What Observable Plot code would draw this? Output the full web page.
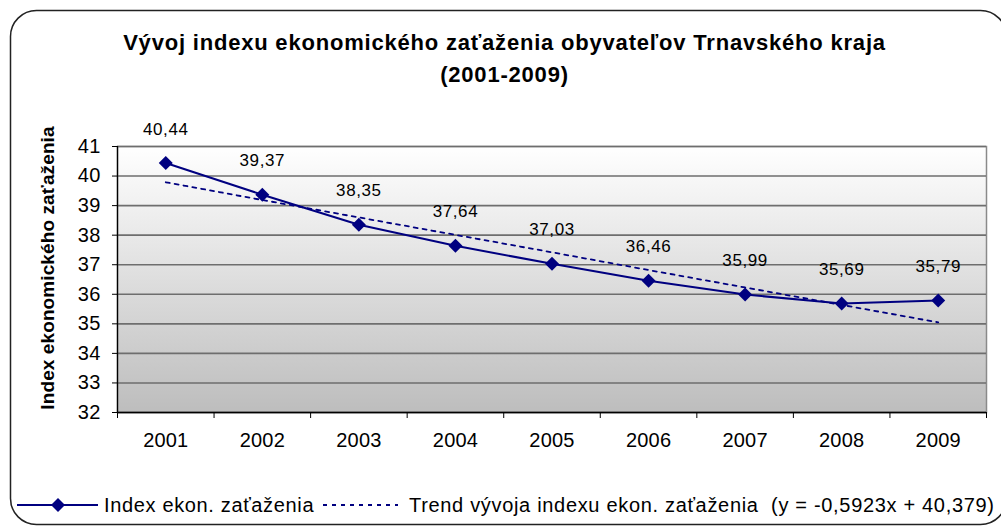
<!DOCTYPE html>
<html><head><meta charset="utf-8">
<script src="https://cdn.jsdelivr.net/npm/d3@7"></script>
<script src="https://cdn.jsdelivr.net/npm/@observablehq/plot@0.6"></script>
<style>
body{margin:0;background:#fff;font-family:"Liberation Sans",Arial,sans-serif;color:#000;}
#wrap{position:relative;width:1001px;height:528px;overflow:hidden;}
#chart{position:absolute;left:0;top:0;}
#chart svg text{letter-spacing:0.2px;}
#chart svg text.lbl{letter-spacing:0.6px;}
.title{position:absolute;left:4px;width:1001px;text-align:center;font-weight:bold;font-size:22px;line-height:24px;letter-spacing:0.8px;white-space:pre;}
.ytitle{position:absolute;left:48px;top:268px;transform:translate(-50%,-50%) rotate(-90deg);font-weight:bold;font-size:19px;letter-spacing:0.1px;white-space:nowrap;}
.leg{position:absolute;top:494px;font-size:20px;line-height:22px;letter-spacing:0.65px;white-space:pre;}
#overlay{position:absolute;left:0;top:0;}
</style></head><body>
<div id="wrap">
  <div id="chart"></div>
  <svg id="overlay" width="1001" height="528"></svg>
  <div class="title" style="top:31px">Vývoj indexu ekonomického zaťaženia obyvateľov Trnavského kraja</div>
  <div class="title" style="top:63px">(2001-2009)</div>
  <div class="ytitle">Index ekonomického zaťaženia</div>
  <div class="leg" style="left:104px">Index ekon. zaťaženia</div>
  <div class="leg" style="left:409px;letter-spacing:0.68px">Trend vývoja indexu ekon. zaťaženia  (y = -0,5923x + 40,379)</div>
</div>
<script>
const years = ["2001","2002","2003","2004","2005","2006","2007","2008","2009"];
const indexValues = [40.44, 39.37, 38.35, 37.64, 37.03, 36.46, 35.99, 35.69, 35.79];
const trendValues = [39.79, 39.19, 38.60, 38.01, 37.42, 36.82, 36.23, 35.64, 35.05];
const yTicks = [32, 33, 34, 35, 36, 37, 38, 39, 40, 41];
const seriesName = "Index ekon. zaťaženia";
const trendName = "Trend vývoja indexu ekon. zaťaženia  (y = -0,5923x + 40,379)";

const positions = years.map((_, i) => i + 1);
const boundaries = [0.5, ...positions.map(p => p + 0.5)];
const data = years.map((y, i) => ({
  pos: i + 1, year: y, value: indexValues[i], trend: trendValues[i],
  label: indexValues[i].toFixed(2).replace(".", ",")
}));

const navy = "#000080";
const chart = Plot.plot({
  width: 1001, height: 528,
  marginLeft: 117, marginRight: 15, marginTop: 146, marginBottom: 116,
  style: {fontFamily: "'Liberation Sans', Arial, sans-serif", fontSize: "20px", background: "transparent", color: "#000"},
  x: {type: "linear", domain: [0.5, 9.5]},
  y: {domain: [32, 41]},
  marks: [
    Plot.frame({fill: "url(#plotBg)", stroke: "#8a8a8a", strokeWidth: 1.5}),
    Plot.gridY(yTicks, {stroke: "#6e6e6e", strokeOpacity: 1, strokeWidth: 1.6}),
    Plot.axisY(yTicks, {tickSize: 5, tickPadding: 12, fontSize: 20, label: null, tickFormat: d => String(d)}),
    Plot.axisX(positions, {tickFormat: i => years[i - 1], tickSize: 0, tickPadding: 20, fontSize: 20, label: null}),
    Plot.axisX(boundaries, {tickFormat: () => "", tickSize: 6, label: null}),
    Plot.ruleX([0.5], {stroke: "#000", strokeWidth: 1.3}),
    Plot.ruleY([32], {stroke: "#000", strokeWidth: 1.3}),
    Plot.line(data, {x: "pos", y: "trend", stroke: navy, strokeWidth: 1.8, strokeDasharray: "4,5"}),
    Plot.line(data, {x: "pos", y: "value", stroke: navy, strokeWidth: 2}),
    Plot.dot(data, {x: "pos", y: "value", symbol: "diamond2", r: 6.3, fill: navy, stroke: "none"}),
    Plot.text(data, {x: "pos", y: "value", text: "label", dy: -34, fontSize: 17, fill: "#000"})
  ]
});

const defs = d3.select(chart).insert("defs", ":first-child");
const grad = defs.append("linearGradient").attr("id", "plotBg")
  .attr("x1", 0).attr("y1", 0).attr("x2", 0).attr("y2", 1);
grad.append("stop").attr("offset", "0%").attr("stop-color", "#ffffff");
grad.append("stop").attr("offset", "100%").attr("stop-color", "#bdbdbd");
d3.select(chart).selectAll("g[aria-label='text'] text").attr("class", "lbl");
document.getElementById("chart").appendChild(chart);

// overlay: border + legend swatches
const ov = d3.select("#overlay");
ov.append("rect").attr("x", 10.5).attr("y", 10.5).attr("width", 996).attr("height", 514)
  .attr("rx", 26).attr("fill", "none").attr("stroke", "#222").attr("stroke-width", 1.5);
ov.append("line").attr("x1", 17).attr("x2", 98).attr("y1", 505).attr("y2", 505)
  .attr("stroke", navy).attr("stroke-width", 2);
ov.append("path").attr("d", d3.symbol(d3.symbolDiamond2, 125)()).attr("transform", "translate(58,505)")
  .attr("fill", navy);
ov.append("line").attr("x1", 323).attr("x2", 398).attr("y1", 505).attr("y2", 505)
  .attr("stroke", navy).attr("stroke-width", 1.8).attr("stroke-dasharray", "4,5");
</script>
</body></html>
